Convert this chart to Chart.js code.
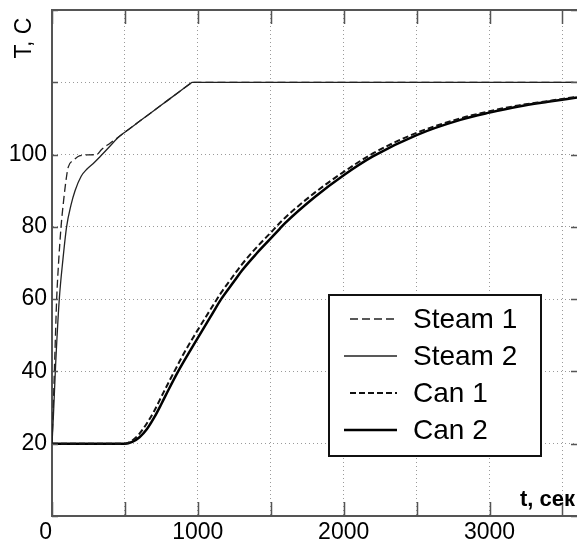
<!DOCTYPE html>
<html>
<head>
<meta charset="utf-8">
<script src="https://cdn.jsdelivr.net/npm/chart.js@4.4.1/dist/chart.umd.min.js"></script>
<style>
  html, body { margin: 0; padding: 0; background: #fff; }
</style>
</head>
<body>
<canvas id="myChart" width="577" height="544"></canvas>
<script>
// time, s
var tSteam1 = [0, 10, 20, 32, 45, 62, 80, 100, 112, 150, 192, 250, 308, 340, 400, 500, 600, 700, 800, 900, 950, 960, 1500, 2000, 2500, 3000, 3600];
var steam1 = [20, 32, 45, 60, 70, 80, 87.4, 94, 96.6, 98.5, 99.7, 99.9, 100.1, 101.4, 103.2, 106.2, 109.2, 112.2, 115.2, 118.2, 119.7, 120, 120, 120, 120, 120, 120];

var tSteam2 = [0, 10, 25, 50, 75, 100, 130, 158, 200, 240, 290, 329, 397, 450, 500, 600, 700, 800, 900, 950, 960, 1500, 2000, 2500, 3000, 3600];
var steam2 = [20, 28, 42, 60, 71, 80, 86, 90, 94, 96, 97.8, 99.4, 102.3, 104.6, 106.2, 109.2, 112.2, 115.2, 118.2, 119.7, 120, 120, 120, 120, 120, 120];

var tCan = [0, 500, 550, 600, 650, 700, 750, 800, 865, 900, 1000, 1100, 1160, 1250, 1300, 1400, 1500, 1560, 1600, 1800, 2000, 2200, 2500, 2800, 3000, 3200, 3400, 3600];
var can1 = [20, 20, 20.9, 22.8, 25.6, 29, 33, 37, 42, 44.7, 51.5, 58, 61.8, 66.8, 69.5, 74.2, 78.4, 81, 82.6, 89.4, 95.2, 100.3, 106, 110, 112, 113.6, 114.8, 116];
var can2 = [20, 20, 20.5, 21.8, 24, 27.2, 31, 35, 40, 42.5, 49.3, 56, 60, 65, 67.8, 72.5, 76.8, 79.4, 81.1, 88.2, 94.3, 99.5, 105.4, 109.6, 111.6, 113.3, 114.6, 115.8];

// grid positions and which of them carry a label
var xTicks = [0, 500, 1000, 1500, 2000, 2500, 3000, 3500];
var xLabelled = [0, 1000, 2000, 3000];
var yTicks = [0, 20, 40, 60, 80, 100, 120, 140];
var yLabelled = [20, 40, 60, 80, 100];

function pts(t, v) {
  return t.map(function (x, i) { return { x: x, y: v[i] }; });
}

var FONT = "'Liberation Sans', Arial, Helvetica, sans-serif";

// axes frame, inner tick marks, legend box and titles
var decor = {
  id: 'decor',
  afterDraw: function (chart) {
    var ctx = chart.ctx, a = chart.chartArea;
    var xs = chart.scales.x, ys = chart.scales.y;
    ctx.save();
    ctx.strokeStyle = '#555';
    ctx.lineWidth = 2;
    ctx.beginPath();
    ctx.moveTo(a.left, a.top);
    ctx.lineTo(a.right, a.top);
    ctx.stroke();

    ctx.lineWidth = 1.5;
    ctx.beginPath();
    xs.ticks.forEach(function (t) {
      var px = Math.round(xs.getPixelForValue(t.value)) + 0.5;
      ctx.moveTo(px, a.bottom); ctx.lineTo(px, a.bottom - 14);
      ctx.moveTo(px, a.top); ctx.lineTo(px, a.top + 14);
    });
    ys.ticks.forEach(function (t) {
      var py = Math.round(ys.getPixelForValue(t.value)) + 0.5;
      ctx.moveTo(a.left, py); ctx.lineTo(a.left + 6, py);
      ctx.moveTo(a.right, py); ctx.lineTo(a.right - 6, py);
    });
    ctx.stroke();

    // legend
    var bx = 329, by = 295, bw = 212, bh = 161;
    ctx.fillStyle = '#fff';
    ctx.fillRect(bx, by, bw, bh);
    ctx.strokeStyle = '#111';
    ctx.lineWidth = 2;
    ctx.strokeRect(bx, by, bw, bh);
    ctx.font = '28px ' + FONT;
    ctx.textBaseline = 'middle';
    ctx.textAlign = 'left';
    chart.data.datasets.forEach(function (ds, i) {
      var ly = by + 24 + i * 37;
      ctx.save();
      ctx.strokeStyle = ds.borderColor;
      ctx.lineWidth = ds.borderWidth;
      ctx.setLineDash(ds.borderDash || []);
      ctx.beginPath();
      ctx.moveTo(ds.borderDash ? 350 : 344, ly);
      ctx.lineTo(397, ly);
      ctx.stroke();
      ctx.restore();
      ctx.fillStyle = '#000';
      ctx.fillText(ds.label, 413, ly + 1);
    });

    // axis titles
    ctx.fillStyle = '#000';
    ctx.save();
    ctx.translate(25, 38);
    ctx.rotate(-Math.PI / 2);
    ctx.font = '23px ' + FONT;
    ctx.textAlign = 'center';
    ctx.textBaseline = 'middle';
    ctx.fillText('T, C', 0, 0);
    ctx.restore();

    ctx.font = 'bold 22px ' + FONT;
    ctx.textAlign = 'left';
    ctx.textBaseline = 'alphabetic';
    ctx.fillText('t, сек', 520, 506);
    ctx.restore();
  }
};

new Chart('myChart', {
  type: 'line',
  data: {
    datasets: [{
      label: 'Steam 1',
      data: pts(tSteam1, steam1),
      borderColor: '#222',
      borderWidth: 1.3,
      borderDash: [8, 4]
    }, {
      label: 'Steam 2',
      data: pts(tSteam2, steam2),
      borderColor: '#222',
      borderWidth: 1.3
    }, {
      label: 'Can 1',
      data: pts(tCan, can1),
      borderColor: '#111',
      borderWidth: 2,
      borderDash: [6, 3]
    }, {
      label: 'Can 2',
      data: pts(tCan, can2),
      borderColor: '#000',
      borderWidth: 2.5
    }]
  },
  options: {
    responsive: false,
    animation: false,
    layout: { padding: { top: 10, right: 0, left: 0, bottom: 0 } },
    elements: {
      point: { radius: 0 },
      line: { cubicInterpolationMode: 'monotone' }
    },
    plugins: {
      legend: { display: false },
      tooltip: { enabled: false }
    },
    scales: {
      x: {
        type: 'linear',
        min: 0,
        max: 3600,
        afterBuildTicks: function (s) {
          s.ticks = xTicks.map(function (v) { return { value: v }; });
        },
        afterFit: function (s) { s.height = 28; s.paddingLeft = 0; s.paddingRight = 0; },
        grid: { color: '#9a9a9a', lineWidth: 1, drawTicks: false },
        border: { display: true, color: '#555', width: 2, dash: [1, 3] },
        ticks: {
          autoSkip: false,
          maxRotation: 0,
          padding: 3,
          color: '#000',
          font: { family: FONT, size: 23 },
          callback: function (v) {
            if (xLabelled.indexOf(v) < 0) return '';
            return v === 0 ? '0  ' : String(v);
          }
        }
      },
      y: {
        min: 0,
        max: 140,
        afterBuildTicks: function (s) {
          s.ticks = yTicks.map(function (v) { return { value: v }; });
        },
        afterFit: function (s) { s.width = 52; s.paddingTop = 0; s.paddingBottom = 0; },
        grid: { color: '#9a9a9a', lineWidth: 1, drawTicks: false },
        border: { display: true, color: '#555', width: 2, dash: [1, 3] },
        ticks: {
          autoSkip: false,
          padding: 5,
          color: '#000',
          font: { family: FONT, size: 23 },
          callback: function (v) { return yLabelled.indexOf(v) < 0 ? '' : String(v); }
        }
      }
    }
  },
  plugins: [decor]
});
</script>
</body>
</html>
